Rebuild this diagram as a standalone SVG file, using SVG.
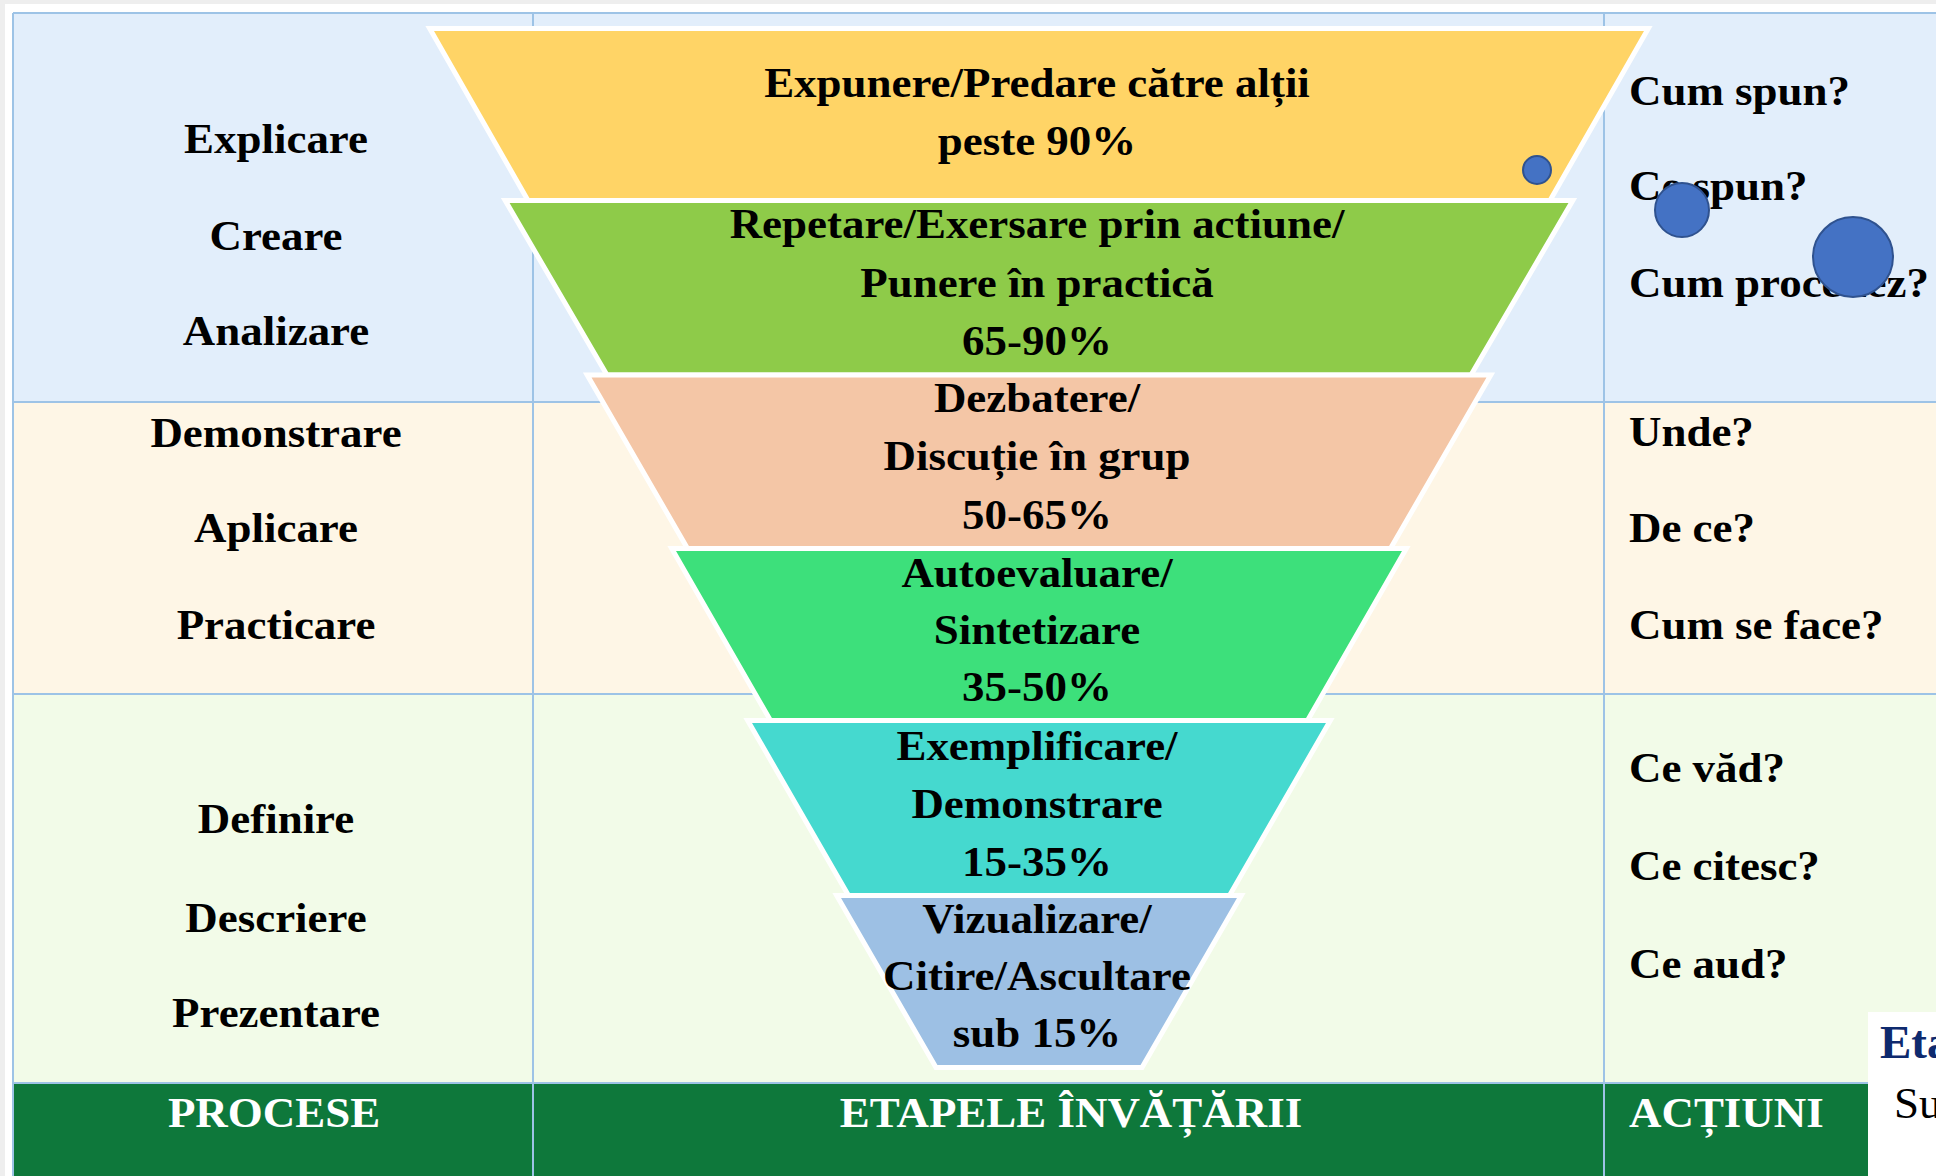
<svg xmlns="http://www.w3.org/2000/svg" width="1936" height="1176" viewBox="0 0 1936 1176">
<style>
.t{font-family:"Liberation Serif","Times New Roman",serif;font-weight:bold;font-size:42px;fill:#000}
.m{text-anchor:middle}
.w{fill:#fff}
.grid{stroke:#9DC3E6;stroke-width:2;fill:none}
.tier{stroke:#fff;stroke-width:5;stroke-linejoin:miter}
.dot{fill:#4472C4;stroke:#2F528F;stroke-width:2}
</style>
<rect x="0" y="0" width="1936" height="1176" fill="#fff"/>
<rect x="0" y="0" width="1936" height="4" fill="#eeeeee"/>
<rect x="0" y="0" width="5" height="1176" fill="#eeeeee"/>
<g id="table">
<rect x="13" y="13" width="1923" height="389" fill="#E2EEFB"/>
<rect x="13" y="402" width="1923" height="292" fill="#FEF6E6"/>
<rect x="13" y="694" width="1923" height="389" fill="#F2FBE8"/>
<rect x="13" y="1083" width="1923" height="93" fill="#0E783B"/>
<path class="grid" d="M13,13H1936M13,402H1936M13,694H1936M13,1083H1936M13,13V1176M533,13V1176M1604,13V1176"/>
</g>
<g id="funnel">
<g id="tier1"><polygon class="tier" fill="#FFD466" points="429.7,28.5 1648.3,28.5 1550,200.5 528,200.5"/>
<text class="t m" transform="translate(1037,97) scale(1.07,1)">Expunere/Predare către alții</text>
<text class="t m" transform="translate(1037,155) scale(1.07,1)">peste 90%</text></g>
<g id="tier2"><polygon class="tier" fill="#8ECB49" points="505.2,200.5 1572.8,200.5 1471,375 607,375"/>
<text class="t m" transform="translate(1037,238) scale(1.07,1)">Repetare/Exersare prin actiune/</text>
<text class="t m" transform="translate(1037,297) scale(1.07,1)">Punere în practică</text>
<text class="t m" transform="translate(1037,355) scale(1.07,1)">65-90%</text></g>
<g id="tier3"><polygon class="tier" fill="#F4C6A6" points="587.2,375 1490.8,375 1390.5,548.5 687.5,548.5"/>
<text class="t m" transform="translate(1037,412) scale(1.07,1)">Dezbatere/</text>
<text class="t m" transform="translate(1037,470) scale(1.07,1)">Discuție în grup</text>
<text class="t m" transform="translate(1037,529) scale(1.07,1)">50-65%</text></g>
<g id="tier4"><polygon class="tier" fill="#3DE07B" points="671.7,548.5 1406.3,548.5 1307.5,720.5 770.5,720.5"/>
<text class="t m" transform="translate(1037,587) scale(1.07,1)">Autoevaluare/</text>
<text class="t m" transform="translate(1037,644) scale(1.07,1)">Sintetizare</text>
<text class="t m" transform="translate(1037,701) scale(1.07,1)">35-50%</text></g>
<g id="tier5"><polygon class="tier" fill="#45D9CF" points="747.7,720.5 1330.3,720.5 1229.5,895.5 848.5,895.5"/>
<text class="t m" transform="translate(1037,760) scale(1.07,1)">Exemplificare/</text>
<text class="t m" transform="translate(1037,818) scale(1.07,1)">Demonstrare</text>
<text class="t m" transform="translate(1037,876) scale(1.07,1)">15-35%</text></g>
<g id="tier6"><polygon class="tier" fill="#9DC0E4" points="836.7,895.5 1241.3,895.5 1142,1067.5 936,1067.5"/>
<text class="t m" transform="translate(1037,933) scale(1.07,1)">Vizualizare/</text>
<text class="t m" transform="translate(1037,990) scale(1.07,1)">Citire/Ascultare</text>
<text class="t m" transform="translate(1037,1047) scale(1.07,1)">sub 15%</text></g>
</g>
<g id="processes">
<text class="t m" transform="translate(276,153) scale(1.07,1)">Explicare</text>
<text class="t m" transform="translate(276,250) scale(1.07,1)">Creare</text>
<text class="t m" transform="translate(276,345) scale(1.07,1)">Analizare</text>
<text class="t m" transform="translate(276,447) scale(1.07,1)">Demonstrare</text>
<text class="t m" transform="translate(276,542) scale(1.07,1)">Aplicare</text>
<text class="t m" transform="translate(276,639) scale(1.07,1)">Practicare</text>
<text class="t m" transform="translate(276,833) scale(1.07,1)">Definire</text>
<text class="t m" transform="translate(276,932) scale(1.07,1)">Descriere</text>
<text class="t m" transform="translate(276,1027) scale(1.07,1)">Prezentare</text>
</g>
<g id="actions">
<text class="t" transform="translate(1629,105) scale(1.07,1)">Cum spun?</text>
<text class="t" transform="translate(1629,200) scale(1.07,1)">Ce spun?</text>
<text class="t" transform="translate(1629,297) scale(1.07,1)">Cum procedez?</text>
<text class="t" transform="translate(1629,446) scale(1.07,1)">Unde?</text>
<text class="t" transform="translate(1629,542) scale(1.07,1)">De ce?</text>
<text class="t" transform="translate(1629,639) scale(1.07,1)">Cum se face?</text>
<text class="t" transform="translate(1629,782) scale(1.07,1)">Ce văd?</text>
<text class="t" transform="translate(1629,880) scale(1.07,1)">Ce citesc?</text>
<text class="t" transform="translate(1629,978) scale(1.07,1)">Ce aud?</text>
</g>
<g id="header">
<text class="t m w" transform="translate(274,1127) scale(1.07,1)">PROCESE</text>
<text class="t m w" transform="translate(1071,1127) scale(1.07,1)">ETAPELE ÎNVĂȚĂRII</text>
<text class="t w" transform="translate(1629,1127) scale(1.07,1)">ACȚIUNI</text>
</g>
<g id="dots">
<circle class="dot" cx="1537" cy="170" r="14"/>
<circle class="dot" cx="1682" cy="210" r="27"/>
<circle class="dot" cx="1853" cy="257" r="40"/>
</g>
<g id="caption">
<rect x="1868" y="1012" width="68" height="164" fill="#fff"/>
<text x="1880" y="1058" style="font-family:'Liberation Serif','Times New Roman',serif;font-weight:bold;font-size:47px;fill:#0E2A6E">Eta</text>
<text x="1894" y="1118" style="font-family:'Liberation Serif','Times New Roman',serif;font-size:45px;fill:#000">Su</text>
</g>
</svg>
